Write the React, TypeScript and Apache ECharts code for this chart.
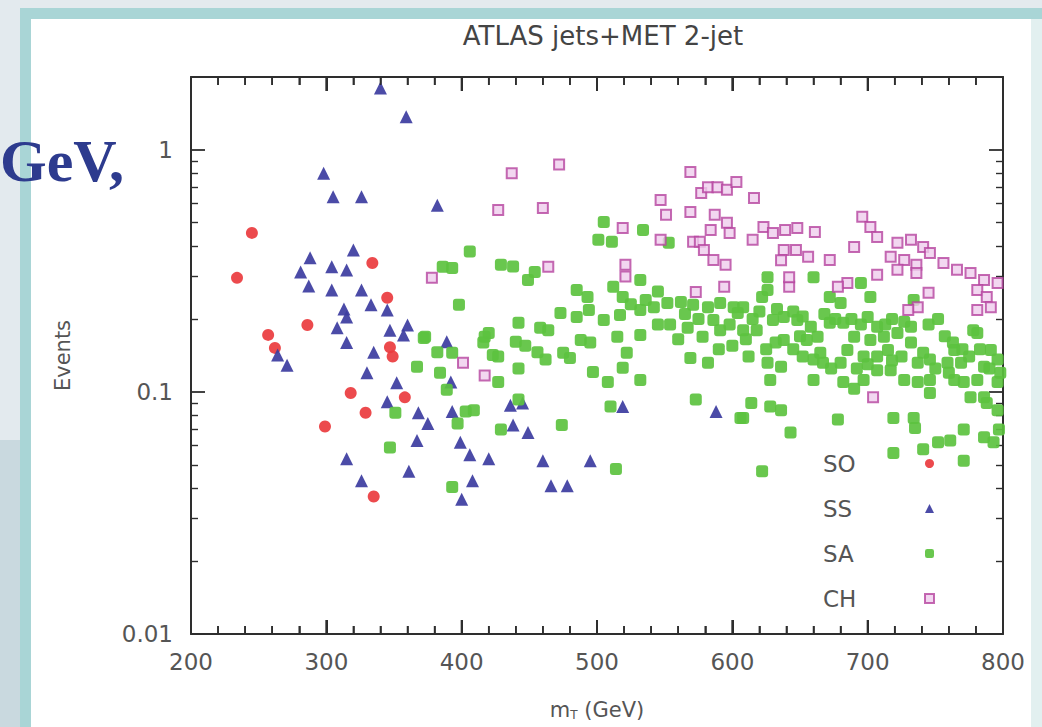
import React, { useEffect, useRef } from "react";
import * as echarts from "echarts";

// ---- data: [m_T (GeV), events] ----
const soPoints: [number, number][] = [
  [234, 0.296], [245, 0.454], [257, 0.172], [262, 0.152], [286, 0.189], [334, 0.341],
  [345, 0.245], [347, 0.153], [349, 0.14], [318, 0.099], [358, 0.095], [329, 0.082],
  [299, 0.072], [335, 0.037],
];

const ssPoints: [number, number][] = [
  [340, 1.8], [359, 1.37], [298, 0.8], [305, 0.64], [326, 0.64], [382, 0.59], [320, 0.386],
  [288, 0.358], [281, 0.313], [304, 0.329], [315, 0.319], [287, 0.274], [304, 0.264],
  [326, 0.264], [333, 0.229], [345, 0.218], [313, 0.22], [315, 0.204], [308, 0.184],
  [315, 0.16], [347, 0.18], [360, 0.189], [357, 0.172], [389, 0.161], [335, 0.146],
  [330, 0.12], [352, 0.109], [345, 0.091], [368, 0.082], [375, 0.074], [393, 0.083],
  [392, 0.11], [367, 0.063], [399, 0.062], [315, 0.053], [361, 0.047], [326, 0.043],
  [400, 0.036], [264, 0.142], [271, 0.129], [436, 0.088], [445, 0.09], [438, 0.073],
  [449, 0.068], [406, 0.055], [420, 0.053], [460, 0.052], [495, 0.052], [408, 0.043],
  [466, 0.041], [478, 0.041], [519, 0.087], [588, 0.083],
];

const saPoints: [number, number][] = [
  [406, 0.38], [386, 0.329], [393, 0.325], [398, 0.229], [373, 0.169], [382, 0.146],
  [393, 0.145], [367, 0.127], [384, 0.12], [389, 0.102], [351, 0.082], [397, 0.074],
  [347, 0.059], [393, 0.0405], [403, 0.083], [372, 0.167], [417, 0.169], [423, 0.142],
  [409, 0.084],
  [429, 0.335], [438, 0.33], [454, 0.313], [449, 0.29], [485, 0.264], [493, 0.247],
  [473, 0.212], [485, 0.204], [494, 0.218], [442, 0.193], [458, 0.184], [464, 0.18],
  [420, 0.175], [416, 0.16], [440, 0.161], [447, 0.155], [456, 0.146], [462, 0.136],
  [475, 0.145], [480, 0.138], [488, 0.164], [495, 0.16], [427, 0.14], [442, 0.125],
  [427, 0.11], [429, 0.07], [442, 0.093], [474, 0.073], [497, 0.121], [505, 0.504],
  [501, 0.425], [511, 0.417], [534, 0.467], [553, 0.413], [512, 0.272], [519, 0.247],
  [532, 0.29], [536, 0.24], [505, 0.198], [517, 0.208], [532, 0.218], [542, 0.224],
  [552, 0.233], [562, 0.235], [571, 0.229], [582, 0.224], [591, 0.233], [601, 0.224],
  [554, 0.19], [567, 0.184], [586, 0.198], [591, 0.18], [578, 0.169], [532, 0.172],
  [515, 0.169], [522, 0.145], [519, 0.126], [532, 0.112], [508, 0.11], [569, 0.138],
  [582, 0.132], [573, 0.093], [510, 0.087], [514, 0.048], [606, 0.078],
  [626, 0.298], [626, 0.264], [622, 0.247], [608, 0.224], [604, 0.212], [608, 0.18],
  [618, 0.18], [630, 0.198], [638, 0.204], [648, 0.198], [658, 0.186], [655, 0.164],
  [663, 0.169], [638, 0.164], [672, 0.247], [680, 0.233], [702, 0.247], [660, 0.298],
  [695, 0.282], [700, 0.204], [707, 0.186], [682, 0.193], [672, 0.193], [690, 0.169],
  [702, 0.164], [712, 0.169], [722, 0.175], [732, 0.16], [741, 0.145], [737, 0.132],
  [746, 0.136], [732, 0.186], [715, 0.149], [707, 0.14], [697, 0.14], [685, 0.149],
  [680, 0.132], [667, 0.132], [660, 0.136], [652, 0.14], [636, 0.127], [626, 0.132],
  [628, 0.112], [660, 0.112], [682, 0.11], [690, 0.103], [697, 0.112], [707, 0.123],
  [717, 0.123], [727, 0.112], [737, 0.11], [746, 0.112], [746, 0.099], [759, 0.132],
  [764, 0.112], [769, 0.132], [771, 0.11], [781, 0.112], [776, 0.095], [786, 0.095],
  [786, 0.127], [791, 0.149], [796, 0.136], [796, 0.11], [764, 0.149], [781, 0.175],
  [788, 0.09], [796, 0.084], [614, 0.09], [628, 0.087], [636, 0.084], [608, 0.078],
  [678, 0.077], [719, 0.078], [734, 0.078], [735, 0.071], [643, 0.068], [752, 0.062],
  [761, 0.063], [771, 0.07], [786, 0.065], [793, 0.062], [797, 0.07], [771, 0.052],
  [741, 0.058], [719, 0.056], [622, 0.047], [734, 0.24], [778, 0.18],
  [615, 0.2], [620, 0.215], [633, 0.22], [645, 0.215], [652, 0.205], [668, 0.21],
  [676, 0.2], [688, 0.2], [695, 0.19], [713, 0.19], [718, 0.2], [727, 0.195],
  [745, 0.19], [752, 0.2], [757, 0.17], [763, 0.16], [770, 0.15], [775, 0.14],
  [783, 0.15], [790, 0.125], [798, 0.12], [760, 0.12], [750, 0.125], [725, 0.14],
  [718, 0.135], [700, 0.13], [692, 0.125], [673, 0.125], [665, 0.145], [645, 0.15],
  [650, 0.17], [632, 0.16], [625, 0.15], [612, 0.14], [600, 0.155], [590, 0.15],
  [560, 0.165], [545, 0.19], [525, 0.23], [545, 0.26], [565, 0.21], [575, 0.2],
  [598, 0.19], [610, 0.165],
];

const chPoints: [number, number][] = [
  [437, 0.8], [472, 0.87], [427, 0.565], [460, 0.575], [464, 0.329], [417, 0.117],
  [401, 0.132], [378, 0.296], [519, 0.476], [521, 0.335], [521, 0.3], [569, 0.81],
  [547, 0.62], [551, 0.54], [569, 0.554], [577, 0.664], [582, 0.7], [589, 0.7],
  [596, 0.684], [603, 0.737], [587, 0.54], [596, 0.5], [584, 0.467], [598, 0.454],
  [547, 0.425], [571, 0.417], [576, 0.417], [579, 0.386], [586, 0.351], [595, 0.335],
  [594, 0.272], [573, 0.259], [616, 0.633], [623, 0.48], [630, 0.454], [639, 0.467],
  [648, 0.476], [661, 0.458], [615, 0.425], [638, 0.386], [647, 0.386], [656, 0.362],
  [672, 0.351], [690, 0.397], [696, 0.529], [702, 0.48], [707, 0.437], [722, 0.413],
  [732, 0.425], [741, 0.397], [746, 0.375], [717, 0.362], [727, 0.351], [736, 0.335],
  [722, 0.32], [736, 0.31], [707, 0.305], [685, 0.282], [678, 0.272], [642, 0.272],
  [636, 0.35], [756, 0.341], [766, 0.32], [776, 0.31], [786, 0.29], [796, 0.282],
  [781, 0.264], [788, 0.247], [781, 0.218], [791, 0.224], [745, 0.257], [737, 0.224],
  [730, 0.218], [642, 0.298], [704, 0.095],
];

const seriesNames = ["SO", "SS", "SA", "CH"];
const xMin = 200;
const xMax = 800;
const xStep = 100;
const xMajorTicks = [200, 300, 400, 500, 600, 700, 800];
const xMinorTicks = [
  220, 240, 260, 280, 320, 340, 360, 380, 420, 440, 460, 480,
  520, 540, 560, 580, 620, 640, 660, 680, 720, 740, 760, 780,
];
const yMajorTicks = [0.01, 0.1, 1];
const yMinorTicks = [
  0.02, 0.03, 0.04, 0.05, 0.06, 0.07, 0.08, 0.09,
  0.2, 0.3, 0.4, 0.5, 0.6, 0.7, 0.8, 0.9,
];
const yMin = 0.01;
const yMax = 2;

const FONT = "DejaVu Sans";
const AX = "#2e2e2e";
const TXT = "#555";

function yLabel(v: number): string {
  const l = Math.round(Math.log10(v) * 1000) / 1000;
  if (l === 0) return "1";
  if (l === -1) return "0.1";
  if (l === -2) return "0.01";
  return "";
}

export default function App() {
  const ref = useRef<HTMLDivElement>(null);
  useEffect(() => {
    if (!ref.current) return;
    const chart = echarts.init(ref.current, null, { renderer: "svg" });

    const xAxisOpt = (top: boolean) => ({
      type: "value",
      ...(top ? { position: "top" } : {}),
      min: xMin,
      max: xMax,
      interval: xStep,
      axisLine: { show: true, onZero: false, lineStyle: { color: AX, width: 2 } },
      axisTick: { show: true, inside: true, length: 14, lineStyle: { color: AX, width: 2 } },
      minorTick: { show: true, splitNumber: 5, length: 8, lineStyle: { color: AX, width: 1.6 } },
      splitLine: { show: false },
      minorSplitLine: { show: false },
      axisLabel: {
        show: !top,
        fontFamily: FONT,
        fontSize: 23,
        color: TXT,
        margin: 16,
      },
    });

    const yBase = (pos: "left" | "right", major: boolean, labels: boolean) => ({
      type: "log",
      logBase: 10,
      position: pos,
      min: yMin,
      max: yMax,
      axisLine: { show: major, onZero: false, lineStyle: { color: AX, width: 2 } },
      axisTick: {
        show: true,
        inside: true,
        length: major ? 14 : 7,
        customValues: major ? yMajorTicks : yMinorTicks,
        lineStyle: { color: AX, width: major ? 1.8 : 1.4 },
      },
      splitLine: { show: false },
      axisLabel: {
        show: labels,
        customValues: yMajorTicks,
        formatter: yLabel,
        fontFamily: FONT,
        fontSize: 23,
        color: TXT,
        margin: 18,
      },
      name: labels ? "Events" : "",
      nameLocation: "middle",
      nameGap: 118,
      nameRotate: 90,
      nameTextStyle: { fontFamily: FONT, fontSize: 21, color: TXT },
    });

    // x tick marks along bottom / top frame, as thin bar-shaped symbols placed by the axis scales
    const xTickMarks = (values: number[], atTop: boolean, len: number, w: number) => ({
      type: "scatter",
      silent: true,
      clip: false,
      z: 4,
      data: values.map((v) => [v, atTop ? yMax : yMin]),
      symbol: "rect",
      symbolSize: [w, len],
      symbolOffset: [0, atTop ? len / 2 : -len / 2],
      itemStyle: { color: AX, opacity: 1 },
      emphasis: { disabled: true },
      tooltip: { show: false },
    });

    chart.setOption({
      animation: false,
      backgroundColor: "transparent",
      title: [
        {
          text: "ATLAS jets+MET 2-jet",
          left: 598,
          top: 18,
          textAlign: "center",
          textStyle: { fontFamily: FONT, fontSize: 26, fontWeight: "normal", color: "#444" },
        },
        {
          text: "GeV,",
          left: 0,
          top: 131,
          padding: 0,
          textStyle: {
            fontFamily: "Liberation Serif",
            fontSize: 60,
            fontWeight: "bold",
            color: "#2d3b8e",
          },
        },
        {
          text: "m{s|T} (GeV)",
          left: 597,
          top: 699,
          padding: 0,
          textAlign: "center",
          textStyle: {
            fontFamily: FONT,
            fontSize: 21,
            fontWeight: "normal",
            color: TXT,
            rich: { s: { fontFamily: FONT, fontSize: 12, color: TXT, padding: [10, 0, 0, 0] } },
          },
        },
      ],
      grid: { left: 191, top: 77, right: 39, bottom: 93, containLabel: false },
      xAxis: [xAxisOpt(false), xAxisOpt(true)],
      yAxis: [
        yBase("left", true, true),
        yBase("left", false, false),
        yBase("right", true, false),
        yBase("right", false, false),
      ],
      legend: {
        orient: "vertical",
        left: 818,
        top: 447,
        align: "right",
        itemWidth: 9,
        itemHeight: 9,
        itemGap: 22,
        selectedMode: false,
        data: seriesNames,
        formatter: "{a|{name}}",
        textStyle: {
          fontFamily: FONT,
          fontSize: 23,
          color: TXT,
          rich: { a: { fontFamily: FONT, fontSize: 23, color: TXT, width: 97, align: "left", height: 23 } },
        },
      },
      series: [
        xTickMarks(xMajorTicks, false, 14, 2),
        xTickMarks(xMajorTicks, true, 14, 2),
        xTickMarks(xMinorTicks, false, 8, 1.6),
        xTickMarks(xMinorTicks, true, 8, 1.6),
        {
          name: "SO",
          type: "scatter",
          data: soPoints,
          symbol: "circle",
          symbolSize: 12,
          itemStyle: { color: "#ea3b3e", opacity: 0.92 },
        },
        {
          name: "SS",
          type: "scatter",
          data: ssPoints,
          symbol: "triangle",
          symbolSize: 13,
          itemStyle: { color: "#3c3c9f", opacity: 0.92 },
        },
        {
          name: "SA",
          type: "scatter",
          data: saPoints,
          symbol: "roundRect",
          symbolSize: 12,
          itemStyle: { color: "#5cc23f", opacity: 0.92 },
        },
        {
          name: "CH",
          type: "scatter",
          data: chPoints,
          symbol: "rect",
          symbolSize: 10,
          itemStyle: { color: "#efcdec", borderColor: "#b5449f", borderWidth: 2 },
        },
      ],
    });
    return () => chart.dispose();
  }, []);

  const box = (left: number, top: number, width: number, height: number, bg: string) => (
    <div style={{ position: "absolute", left, top, width, height, background: bg }} />
  );

  return (
    <div style={{ position: "fixed", left: 0, top: 0, width: 1042, height: 727, background: "#e3eaee", overflow: "hidden" }}>
      {box(0, 440, 24, 287, "#c9d9df")}
      {box(20, 8, 1022, 719, "#a9d5d6")}
      {box(31, 19, 1000, 708, "#ffffff")}
      {box(1031, 19, 11, 708, "#e2f0f0")}
      <div ref={ref} style={{ position: "absolute", left: 0, top: 0, width: 1042, height: 727 }} />
    </div>
  );
}
